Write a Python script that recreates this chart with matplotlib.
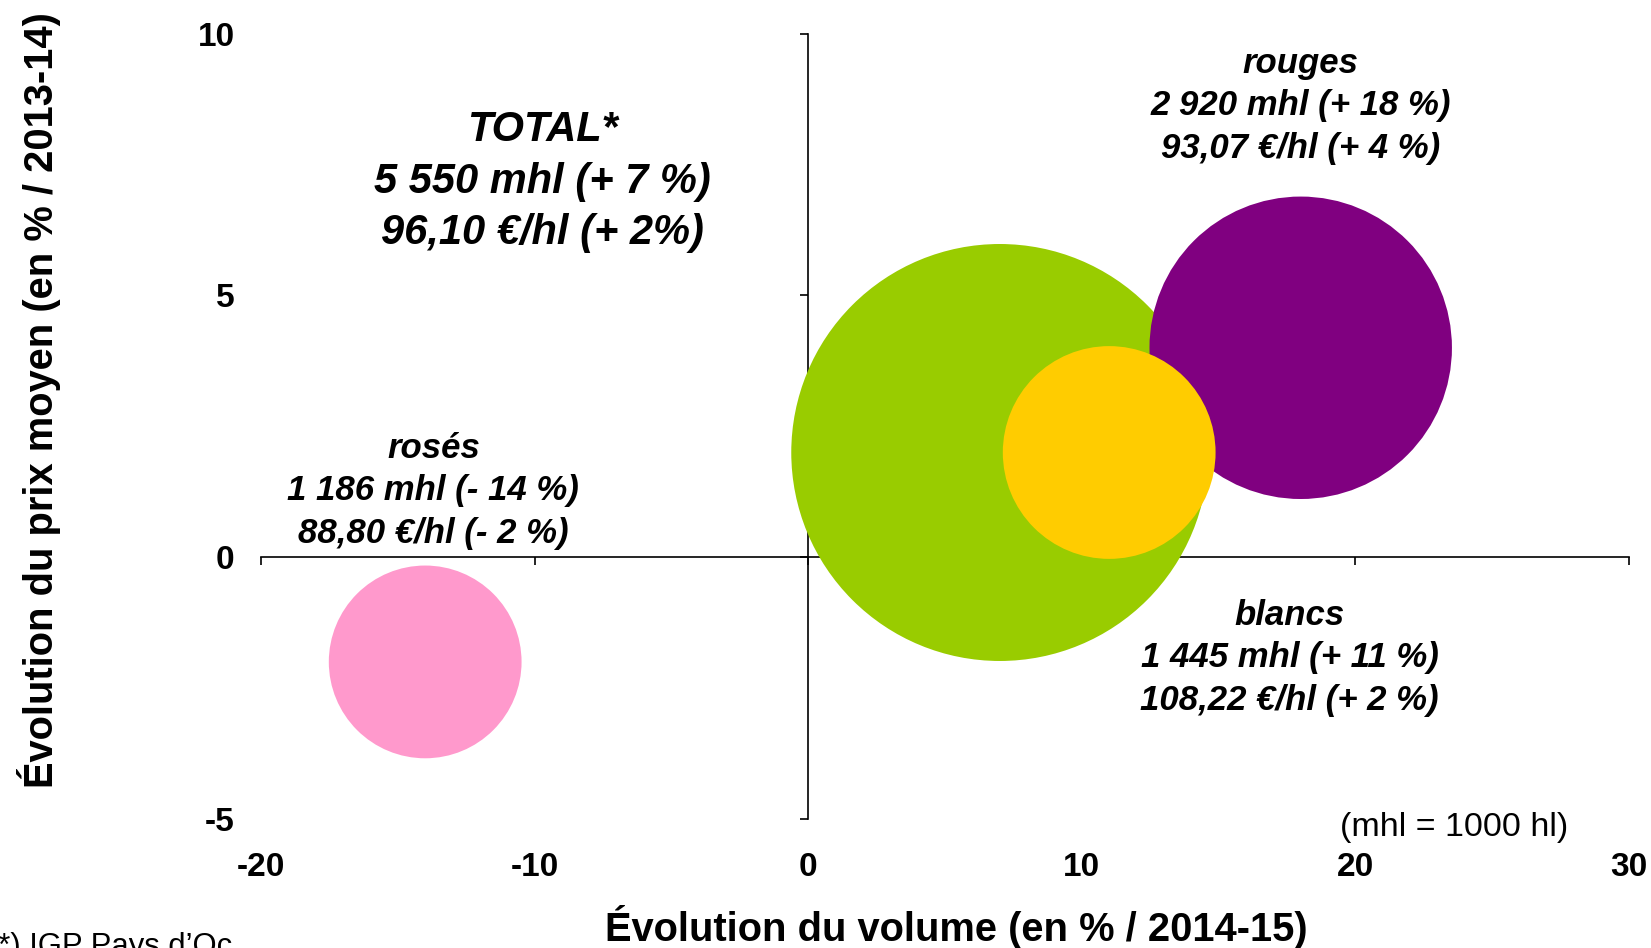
import matplotlib
matplotlib.use('Agg')
import matplotlib.pyplot as plt

plt.rcParams['font.family'] = ['Liberation Sans', 'DejaVu Sans']
plt.rcParams['axes.unicode_minus'] = False

# data
segments = ['TOTAL*', 'rouges', 'blancs', 'rosés']
vol_change = [7, 18, 11, -14]        # % vs 2014-15
price_change = [2, 4, 2, -2]         # % vs 2013-14
volumes = [5550, 2920, 1445, 1186]   # mhl
colors = ['#99CC00', '#800080', '#FFCC00', '#FF99CC']
notes = [
    'TOTAL*\n5 550 mhl (+ 7 %)\n96,10 €/hl (+ 2%)',
    'rouges\n2 920 mhl (+ 18 %)\n93,07 €/hl (+ 4 %)',
    'blancs\n1 445 mhl (+ 11 %)\n108,22 €/hl (+ 2 %)',
    'rosés\n1 186 mhl (- 14 %)\n88,80 €/hl (- 2 %)',
]
xticks = [-20, -10, 0, 10, 20, 30]
yticks = [-5, 0, 5, 10]

fig = plt.figure(figsize=(16.51, 9.48), dpi=100)
rect = [0.1581, 0.1361, 0.8286, 0.8284]

# axes crossing at zero, drawn behind the bubbles
axl = fig.add_axes(rect, zorder=0)
axl.set_xlim(-20, 30)
axl.set_ylim(-5, 10)
for s in ['top', 'right']:
    axl.spines[s].set_visible(False)
for s in ['left', 'bottom']:
    axl.spines[s].set_position(('data', 0))
    axl.spines[s].set_linewidth(1.2)
axl.set_xticks(xticks)
axl.set_yticks(yticks)
axl.tick_params(direction='out', length=6, width=1.2, labelbottom=False, labelleft=False)

# main axes: bubbles + tick labels on the outside
ax = fig.add_axes(rect, zorder=1)
ax.patch.set_visible(False)
ax.set_xlim(-20, 30)
ax.set_ylim(-5, 10)
for s in ax.spines.values():
    s.set_visible(False)
ax.set_xticks(xticks)
ax.set_yticks(yticks)
ax.tick_params(axis='x', length=0, pad=24, labelsize=24)
ax.tick_params(axis='y', length=0, pad=19, labelsize=24)
for lab in ax.get_xticklabels() + ax.get_yticklabels():
    lab.set_fontweight('bold')

k = 16.24  # marker area (pt^2) per mhl
ax.scatter(vol_change, price_change, s=[v * k for v in volumes], c=colors,
           edgecolors='none', zorder=3)

# bubble captions
note_pos = [(-9.7, 7.17), (18.0, 8.62), (17.6, -1.92), (-13.7, 1.27)]
note_size = [30, 25, 25, 25]
for txt, (x, y), fs in zip(notes, note_pos, note_size):
    ax.text(x, y, txt, ha='center', va='center', fontsize=fs,
            fontweight='bold', style='italic', linespacing=1.37, zorder=4)

ax.text(23.6, -5.16, '(mhl = 1000 hl)', ha='center', va='center', fontsize=24.5)

fig.text(0.579, 0.0222, 'Évolution du volume (en % / 2014-15)', ha='center',
         va='center', fontsize=28.7, fontweight='bold')
fig.text(0.0236, 0.578, 'Évolution du prix moyen (en % / 2013-14)', ha='center',
         va='center', rotation=90, fontsize=28.7, fontweight='bold')
fig.text(-0.0072, -0.0074, '(*) IGP Pays d\u2019Oc', ha='left', va='baseline',
         fontsize=22.3)

fig.savefig('out.png', dpi=100)
